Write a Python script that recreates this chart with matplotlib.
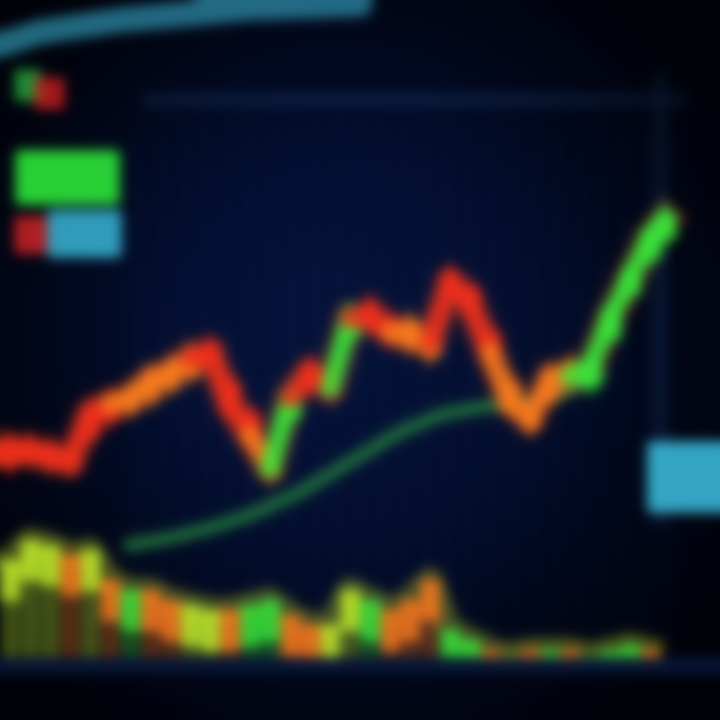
import numpy as np
import matplotlib.pyplot as plt
from matplotlib.patches import FancyBboxPatch, Rectangle

# price candles (x position, open, close)
candle_x = [10, 30, 50, 70, 90, 110, 130, 150, 170, 190, 210, 230, 250, 270, 290, 310, 330,
            350, 370, 390, 410, 430, 450, 470, 490, 510, 530, 550, 570, 590, 610, 630, 650, 665]
candle_open = [262, 272, 268, 262, 292, 308, 318, 328, 340, 352, 362, 330, 300, 258, 310, 340, 342,
               392, 410, 395, 392, 372, 440, 425, 380, 330, 300, 330, 350, 342, 390, 435, 470, 490]
candle_close = [272, 268, 262, 258, 306, 316, 322, 340, 348, 362, 368, 315, 285, 252, 322, 348, 332,
                402, 402, 388, 382, 378, 436, 416, 368, 318, 302, 342, 344, 352, 402, 442, 482, 500]
up_down = ['r', 'r', 'r', 'r', 'r', 'r', 'o', 'o', 'o', 'o', 'r', 'r', 'r', 'o', 'g', 'r', 'r',
           'g', 'r', 'r', 'o', 'o', 'r', 'r', 'r', 'o', 'o', 'o', 'o', 'g', 'g', 'g', 'g', 'g']

# moving average
ma_x = [130, 170, 210, 250, 300, 350, 400, 440, 480, 520, 560, 600]
ma_y = [175, 182, 192, 205, 228, 258, 288, 305, 313, 318, 325, 345]

# volume
vol_x = candle_x[:-1]
vol_top = [160, 180, 175, 165, 170, 140, 130, 130, 120, 115, 110, 110, 115, 120, 105, 95, 95,
           130, 120, 110, 120, 140, 90, 80, 70, 65, 70, 70, 70, 65, 70, 75, 70]
vol_col = ['y', 'y', 'y', 'o', 'y', 'o', 'g', 'o', 'o', 'y', 'y', 'o', 'g', 'g', 'o', 'o', 'y',
           'y', 'g', 'o', 'o', 'o', 'g', 'g', 'o', 'y', 'o', 'g', 'o', 'g', 'g', 'g', 'o']

palette = {'r': '#f0301c', 'o': '#f87a1e', 'g': '#3ae43a', 'y': '#c0ea2a'}

fig = plt.figure(figsize=(7.2, 7.2), dpi=100)
fig.patch.set_facecolor('#030820')
ax = fig.add_axes([0, 0, 1, 1])
ax.set_xlim(0, 720)
ax.set_ylim(0, 720)
ax.axis('off')

# background gradient
yy, xx = np.mgrid[0:1:200j, 0:1:200j]
glow = np.exp(-((xx - 0.45) ** 2 / 0.2 + (yy - 0.55) ** 2 / 0.25))
bg = np.zeros((200, 200, 3))
bg[..., 0] = 0.005 + 0.015 * glow
bg[..., 1] = 0.02 + 0.05 * glow
bg[..., 2] = 0.08 + 0.14 * glow
ax.imshow(bg, extent=[0, 720, 0, 720], origin='lower', zorder=0, aspect='auto')

# faint grid
for gx in range(140, 680, 22):
    ax.plot([gx, gx], [80, 600], color='#163670', lw=3, alpha=0.2, zorder=1)
ax.plot([150, 680], [620, 620], color='#15315e', lw=10, alpha=0.6, zorder=1)
ax.plot([660, 660], [200, 640], color='#15315e', lw=10, alpha=0.5, zorder=1)

# vignette, under the bright marks
vig = np.zeros((200, 200, 4))
vig[..., 3] = np.clip(((xx - 0.5) ** 2 + (yy - 0.5) ** 2) * 2.0 - 0.15, 0, 0.6)
ax.imshow(vig, extent=[0, 720, 0, 720], origin='lower', zorder=1.5, aspect='auto')

# top cyan curve
ax.plot([0, 40, 120, 250, 360], [675, 688, 700, 712, 716], color='#3ab0d0', lw=18, alpha=0.6,
        solid_capstyle='round', zorder=2)
ax.add_patch(Rectangle((15, 620), 25, 30, color='#2ab040', alpha=0.8, zorder=2))
ax.add_patch(Rectangle((35, 612), 28, 30, color='#d02020', alpha=0.8, zorder=2))

# legend blobs
ax.add_patch(FancyBboxPatch((20, 520), 95, 45, boxstyle='round,pad=4', color='#2ee83a', alpha=0.9, zorder=3))
ax.add_patch(FancyBboxPatch((18, 470), 25, 30, boxstyle='round,pad=3', color='#d02424', alpha=0.85, zorder=3))
ax.add_patch(FancyBboxPatch((52, 467), 65, 38, boxstyle='round,pad=4', color='#3ab8d8', alpha=0.85, zorder=3))

# right cyan box
ax.add_patch(FancyBboxPatch((652, 212), 70, 62, boxstyle='round,pad=4', color='#3ab8d8', alpha=0.9, zorder=3))

# moving average
ax.plot(ma_x, ma_y, color='#1f7a3a', lw=12, alpha=0.35, zorder=3)
ax.plot(ma_x, ma_y, color='#2a8a45', lw=6, alpha=0.8, zorder=3)

# price line glow
ax.plot(candle_x, candle_close, color='#e04a1e', lw=24, alpha=0.3, zorder=3)
for i, x in enumerate(candle_x):
    c = palette[up_down[i]]
    lo, hi = sorted([candle_open[i], candle_close[i]])
    ax.plot([x, x], [lo - 14, hi + 14], color=c, lw=4, alpha=0.8, zorder=4)
    ax.add_patch(Rectangle((x - 10, lo - 8), 20, hi - lo + 16, color=c, alpha=0.95, zorder=4))
for i in range(len(candle_x) - 1):
    c = palette[up_down[i + 1]]
    ax.plot(candle_x[i:i + 2], candle_close[i:i + 2], color=c, lw=14, alpha=0.9,
            solid_capstyle='round', zorder=4)

# volume bars, bright at the top and fading towards the base
base = 60
ax.plot(vol_x, vol_top, color='#c8d830', lw=18, alpha=0.35, zorder=3)
for i, x in enumerate(vol_x):
    c = palette[vol_col[i]]
    ax.add_patch(Rectangle((x - 8, base), 16, vol_top[i] - base, color=c, alpha=0.35, zorder=4))
    cap = max(base, vol_top[i] - 40)
    ax.add_patch(Rectangle((x - 9, cap), 18, vol_top[i] - cap, color=c, alpha=0.85, zorder=4))
ax.plot([0, 720], [55, 55], color='#081636', lw=12, zorder=5)

# soft focus like the reference photo
fig.canvas.draw()
img = np.asarray(fig.canvas.buffer_rgba())[..., :3].astype(float) / 255
sigma = 6
k = np.arange(-3 * sigma, 3 * sigma + 1)
kernel = np.exp(-k ** 2 / (2 * sigma ** 2))
kernel /= kernel.sum()
pad = len(k) // 2
for axis in (0, 1):
    padded = np.pad(img, [(pad, pad) if a == axis else (0, 0) for a in range(3)], mode='edge')
    img = np.apply_along_axis(lambda v: np.convolve(v, kernel, mode='valid'), axis, padded)
plt.imsave('out.png', np.clip(img, 0, 1))
